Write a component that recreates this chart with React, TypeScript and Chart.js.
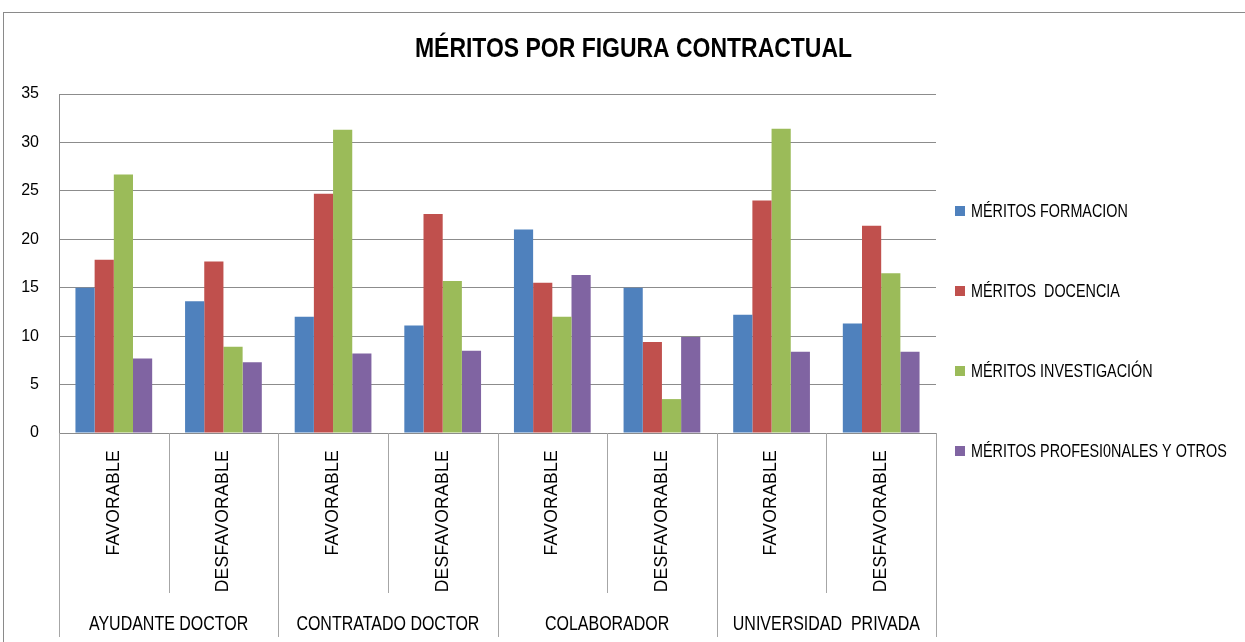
import React, { useEffect, useRef } from "react";
import { Chart, registerables } from "chart.js";

Chart.register(...registerables);

const categories = [
  "FAVORABLE", "DESFAVORABLE",
  "FAVORABLE", "DESFAVORABLE",
  "FAVORABLE", "DESFAVORABLE",
  "FAVORABLE", "DESFAVORABLE",
];
const groups = ["AYUDANTE DOCTOR", "CONTRATADO DOCTOR", "COLABORADOR", "UNIVERSIDAD  PRIVADA"];
const seriesNames = [
  "MÉRITOS FORMACION",
  "MÉRITOS  DOCENCIA",
  "MÉRITOS INVESTIGACIÓN",
  "MÉRITOS PROFESI0NALES Y OTROS",
];
const formacion = [15.0, 13.6, 12.0, 11.1, 21.0, 15.0, 12.2, 11.3];
const docencia = [17.9, 17.7, 24.7, 22.6, 15.5, 9.4, 24.0, 21.4];
const investigacion = [26.7, 8.9, 31.3, 15.7, 12.0, 3.5, 31.4, 16.5];
const profesionales = [7.7, 7.3, 8.2, 8.5, 16.3, 9.9, 8.4, 8.4];
const colors = ["#4F81BD", "#C0504D", "#9BBB59", "#8064A2"];
const yTicks = { min: 0, max: 35, step: 5 };
const title = "MÉRITOS POR FIGURA CONTRACTUAL";

const FONT = "'Liberation Sans', Arial, sans-serif";
const NARROW_X = 0.82;

function narrowText(ctx: any, text: string, x: number, y: number, font: string, align: string) {
  ctx.save();
  ctx.translate(x, y);
  ctx.scale(NARROW_X, 1);
  ctx.font = font;
  ctx.textAlign = align;
  ctx.textBaseline = "middle";
  ctx.fillText(text, 0, 0);
  ctx.restore();
}

const decorPlugin = {
  id: "decor",
  beforeDraw(chart: any) {
    const ctx = chart.ctx;
    ctx.save();
    ctx.fillStyle = "#ffffff";
    ctx.fillRect(0, 0, chart.width, chart.height);
    ctx.restore();
  },
  afterDraw(chart: any) {
    const ctx = chart.ctx;
    const area = chart.chartArea;
    const x = chart.scales.x;
    const n = categories.length;
    ctx.save();
    // frame
    ctx.strokeStyle = "#8a8a8a";
    ctx.lineWidth = 1;
    ctx.strokeRect(3.5, 12.5, 3000, 3000);

    // title
    ctx.fillStyle = "#000000";
    narrowText(ctx, title, chart.width / 2 + 11, 49, `bold 28px ${FONT}`, "center");

    // boundaries
    const bounds: number[] = [];
    for (let i = 0; i <= n; i++) {
      if (i === 0) bounds.push(area.left);
      else if (i === n) bounds.push(area.right);
      else bounds.push((x.getPixelForValue(i - 1) + x.getPixelForValue(i)) / 2);
    }
    ctx.strokeStyle = "#a6a6a6";
    for (let i = 0; i <= n; i++) {
      const isGroup = i % 2 === 0;
      const bx = Math.round(bounds[i]) + 0.5;
      ctx.beginPath();
      ctx.moveTo(bx, area.bottom);
      ctx.lineTo(bx, isGroup ? area.bottom + 204 : area.bottom + 160);
      ctx.stroke();
    }

    // rotated category labels
    ctx.fillStyle = "#000000";
    ctx.font = `17.5px ${FONT}`;
    (ctx as any).letterSpacing = "0.3px";
    for (let i = 0; i < n; i++) {
      const cx = x.getPixelForValue(i);
      ctx.save();
      ctx.translate(cx, area.bottom + 17);
      ctx.rotate(-Math.PI / 2);
      ctx.textAlign = "right";
      ctx.textBaseline = "middle";
      ctx.fillText(categories[i], 0, 0);
      ctx.restore();
    }
    (ctx as any).letterSpacing = "0px";

    // group labels
    for (let g = 0; g < groups.length; g++) {
      const gx = (bounds[g * 2] + bounds[g * 2 + 2]) / 2;
      narrowText(ctx, groups[g], gx, area.bottom + 192, `19.5px ${FONT}`, "center");
    }

    // legend
    chart.data.datasets.forEach((ds: any, i: number) => {
      const ly = 211 + i * 80;
      ctx.fillStyle = ds.backgroundColor;
      ctx.fillRect(area.right + 19, ly - 5, 10, 10);
      ctx.fillStyle = "#000000";
      narrowText(ctx, ds.label, area.right + 35, ly + 1, `17.5px ${FONT}`, "left");
    });
    ctx.restore();
  },
};

export default function App() {
  const ref = useRef<HTMLCanvasElement>(null);
  useEffect(() => {
    const series = [formacion, docencia, investigacion, profesionales];
    const chart = new Chart(ref.current as HTMLCanvasElement, {
      type: "bar",
      data: {
        labels: categories,
        datasets: series.map((d, i) => ({
          label: seriesNames[i],
          data: d,
          backgroundColor: colors[i],
          borderWidth: 0,
          categoryPercentage: 0.7,
          barPercentage: 1.0,
        })),
      },
      options: {
        responsive: false,
        animation: false,
        layout: { padding: { left: 0, right: 309, top: 94, bottom: 0 } },
        plugins: {
          legend: { display: false },
          tooltip: { enabled: false },
          title: { display: false },
        },
        scales: {
          x: {
            grid: { display: false },
            border: { display: false },
            ticks: { display: false },
            afterFit: (s: any) => { s.height = 209; },
          },
          y: {
            min: yTicks.min,
            max: yTicks.max,
            ticks: {
              stepSize: yTicks.step,
              color: "#000000",
              font: { family: FONT, size: 16 },
              padding: 20,
            },
            grid: { color: "#8c8c8c", lineWidth: 1, drawTicks: false },
            border: { color: "#8c8c8c" },
            afterFit: (s: any) => { s.width = 59; },
          },
        },
      },
      plugins: [decorPlugin],
    });
    return () => chart.destroy();
  }, []);
  return (
    <div style={{ position: "fixed", left: 0, top: 0, width: 1245, height: 642, background: "#fff" }}>
      <canvas ref={ref} width={1245} height={642} />
    </div>
  );
}
